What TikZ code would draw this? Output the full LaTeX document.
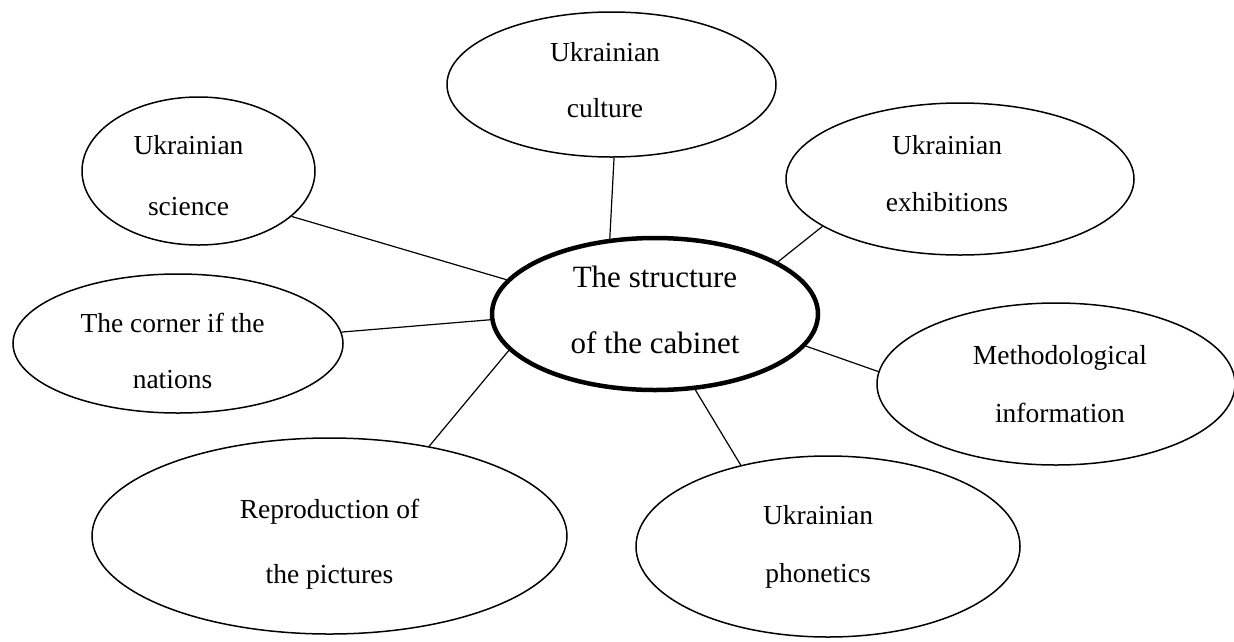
\documentclass[tikz,border=0pt]{standalone}
\usepackage{fontspec}
\setmainfont{Liberation Serif}
\usetikzlibrary{shapes.geometric}
\tikzset{
  sat/.style={draw, ellipse, line width=1.5pt, inner sep=0pt},
  hub/.style={draw, ellipse, line width=4.5pt, inner sep=0pt},
  lab/.style={font=\fontsize{27.5}{#1}\selectfont, align=center, inner sep=0pt},
  hublab/.style={font=\fontsize{31}{66}\selectfont, align=center, inner sep=0pt},
  link/.style={line width=1.2pt}
}
\begin{document}
\begin{tikzpicture}[x=1pt, y=-1pt]
\useasboundingbox (0,0) rectangle (1234,641);

\node[hub, minimum width=326pt, minimum height=152pt,
  label={[hublab, yshift=4.5pt]center:{The structure\\of the cabinet}}] (C) at (655,314) {};

\node[sat, minimum width=329pt, minimum height=145pt,
  label={[lab=56, xshift=-6.5pt, yshift=4pt]center:{Ukrainian\\culture}}] (U) at (611.5,84.5) {};

\node[sat, minimum width=233pt, minimum height=148pt,
  label={[lab=61, xshift=-10pt, yshift=-5pt]center:{Ukrainian\\science}}] (S) at (198.5,171) {};

\node[sat, minimum width=348pt, minimum height=152pt,
  label={[lab=57, xshift=-13pt, yshift=5.5pt]center:{Ukrainian\\exhibitions}}] (E) at (960,179) {};

\node[sat, minimum width=330pt, minimum height=139pt,
  label={[lab=56, xshift=-5.5pt, yshift=-7pt]center:{The corner if the\\nations}}] (K) at (178,343.5) {};

\node[sat, minimum width=358pt, minimum height=162pt,
  label={[lab=58, xshift=4pt]center:{Methodological\\information}}] (M) at (1056,384) {};

\node[sat, minimum width=384pt, minimum height=181pt,
  label={[lab=58, xshift=-10pt]center:{Ukrainian\\phonetics}}] (P) at (828,546.5) {};

\node[sat, minimum width=475pt, minimum height=196pt,
  label={[lab=65, yshift=-8.5pt]center:{Reproduction of\\the pictures}}] (R) at (329.5,536) {};

\draw[link] (S.-26.2) -- (C.167.2);
\draw[link] (U.-88.8) -- (C.121.7);
\draw[link] (E.-161.4) -- (C.23.3);
\draw[link] (K.4.6) -- (C.182.8);
\draw[link] (M.176.8) -- (C.-12);
\draw[link] (P.137.4) -- (C.-62.2);
\draw[link] (R.42.1) -- (C.-166.8);
\end{tikzpicture}
\end{document}
